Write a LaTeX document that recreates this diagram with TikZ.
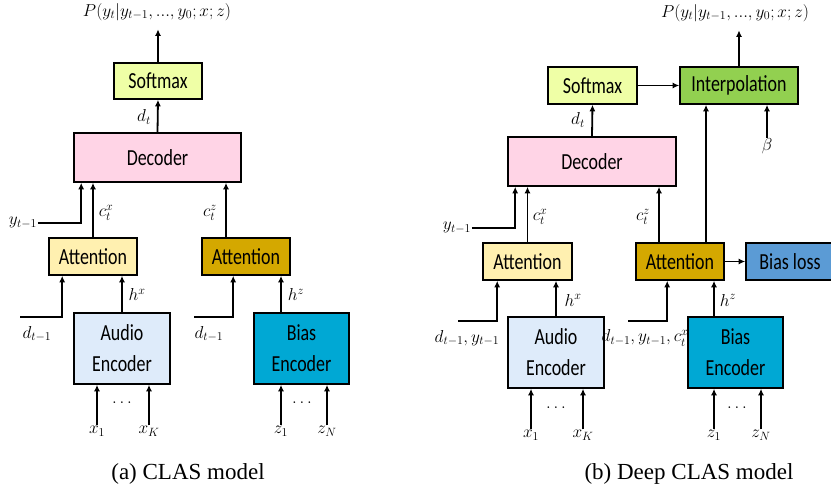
\documentclass[tikz,border=0pt]{standalone}
\usepackage{fontspec}
\setmainfont{Liberation Serif}
\setsansfont{Carlito}[FakeStretch=0.78]
\usetikzlibrary{arrows.meta,positioning,calc}
\DeclareMathSizes{16}{16}{12}{9}

\definecolor{smcol}{HTML}{EFFFA6}
\definecolor{deccol}{HTML}{FFD4E6}
\definecolor{attxcol}{HTML}{FFF0B0}
\definecolor{attzcol}{HTML}{D4A800}
\definecolor{audcol}{HTML}{DEEBFA}
\definecolor{biascol}{HTML}{00A8D4}
\definecolor{intcol}{HTML}{92D050}
\definecolor{losscol}{HTML}{5B9BD5}

\newcommand{\bxfont}{\sffamily\fontsize{23}{31}\selectfont}
\newcommand{\lbfont}{\fontsize{16}{18}\selectfont}
\newcommand{\capfont}{\rmfamily\fontsize{23}{26}\selectfont}

\begin{document}
\begin{tikzpicture}[x=1pt,y=-1pt,
  box/.style={draw,line width=1.6pt,font=\bxfont,align=center,inner sep=0pt},
  arr/.style={-{Latex[length=6.5pt,width=6pt]},line width=1.8pt},
  lbl/.style={font=\lbfont,inner sep=0.5pt}]
  \useasboundingbox (0,0) rectangle (831,492);

  % ---------------- (a) CLAS model ----------------
  \node[box,fill=smcol,minimum width=88pt,minimum height=36pt] (smA) at (158,81) {Softmax};
  \node[box,fill=deccol,minimum width=167pt,minimum height=49pt] (decA) at (157.5,157.5) {Decoder};
  \node[box,fill=attxcol,minimum width=88pt,minimum height=37pt] (attxA) at (93,256.5) {Attention};
  \node[box,fill=attzcol,minimum width=88pt,minimum height=37pt] (attzA) at (246,256.5) {Attention};
  \node[box,fill=audcol,minimum width=96pt,minimum height=71pt] (audA) at (122,348.5) {Audio\\Encoder};
  \node[box,fill=biascol,minimum width=95pt,minimum height=71pt] (biasA) at (301.5,348.5) {Bias\\Encoder};

  % labels
  \node[lbl] (pA) at (157,12) {$P(y_t|y_{t-1},...,y_0;x;z)$};
  \node[lbl] (dtA) at (144,117) {$d_t$};
  \node[lbl] (ytA) at (23,223) {$y_{t-1}$};
  \node[lbl] (cxA) at (106,213) {$c_t^x$};
  \node[lbl] (czA) at (210,213) {$c_t^z$};
  \node[lbl] (dlA) at (37,334) {$d_{t-1}$};
  \node[lbl] (drA) at (209,334) {$d_{t-1}$};
  \node[lbl] (hxA) at (137,295) {$h^x$};
  \node[lbl] (hzA) at (296,295) {$h^z$};
  \node[lbl] (x1A) at (97,431) {$x_1$};
  \node[lbl] (xkA) at (149,431) {$x_K$};
  \node[lbl] (z1A) at (281,431) {$z_1$};
  \node[lbl] (znA) at (327,431) {$z_N$};
  \node[lbl] (dotxA) at (122,403) {$\ldots$};
  \node[lbl] (dotzA) at (302,403) {$\ldots$};
  \coordinate (dinlA) at (20,317);
  \coordinate (dinrA) at (194,317);

  % connectors
  \draw[arr,shorten >=8pt] (smA.north) -- (smA.north |- pA.south);
  \draw[arr] (decA.north) -- (smA.south);
  \draw[arr] (ytA.east) -| ([xshift=8pt]decA.south west);
  \draw[arr] (attxA.north) -- (attxA.north |- decA.south);
  \draw[arr] ([xshift=-20pt]attzA.north) -- ([xshift=-20pt]attzA.north |- decA.south);
  \draw[arr] (dinlA) -| ([xshift=14pt]attxA.south west);
  \draw[arr] (dinrA) -| ([xshift=32pt]attzA.south west);
  \draw[arr] (audA.north) -- (audA.north |- attxA.south);
  \draw[arr] ([xshift=-20.5pt]biasA.north) -- ([xshift=-20.5pt]biasA.north |- attzA.south);
  \foreach \n in {x1A,xkA}
    \draw[arr] (\n.north) -- (\n.north |- audA.south);
  \foreach \n in {z1A,znA}
    \draw[arr] (\n.north) -- (\n.north |- biasA.south);

  \node[font=\capfont] (capA) at (188,474) {(a) CLAS model};

  % ---------------- (b) Deep CLAS model ----------------
  \node[box,fill=smcol,minimum width=89pt,minimum height=37pt] (smB) at (592.5,85.5) {Softmax};
  \node[box,fill=intcol,minimum width=118pt,minimum height=37pt] (intB) at (739,85.5) {Interpolation};
  \node[box,fill=deccol,minimum width=168pt,minimum height=49pt] (decB) at (592,161.5) {Decoder};
  \node[box,fill=attxcol,minimum width=89pt,minimum height=37pt] (attxB) at (527.5,261.5) {Attention};
  \node[box,fill=attzcol,minimum width=88pt,minimum height=37pt] (attzB) at (680,261.5) {Attention};
  \node[box,fill=losscol,minimum width=88pt,minimum height=37pt] (lossB) at (790,261.5) {Bias loss};
  \node[box,fill=audcol,minimum width=96pt,minimum height=71pt] (audB) at (556,352.5) {Audio\\Encoder};
  \node[box,fill=biascol,minimum width=95pt,minimum height=71pt] (biasB) at (735.5,352.5) {Bias\\Encoder};

  % labels
  \node[lbl] (pB) at (735,13) {$P(y_t|y_{t-1},...,y_0;x;z)$};
  \node[lbl] (dtB) at (578,120) {$d_t$};
  \node[lbl] (betaB) at (767,146) {$\beta$};
  \node[lbl] (ytB) at (457,228) {$y_{t-1}$};
  \node[lbl] (cxB) at (540,217) {$c_t^x$};
  \node[lbl] (czB) at (643,217) {$c_t^z$};
  \node[lbl] (dlB) at (467,338) {$d_{t-1},y_{t-1}$};
  \node[lbl] (drB) at (645,338) {$d_{t-1},y_{t-1},c_t^x$};
  \node[lbl] (hxB) at (573,300) {$h^x$};
  \node[lbl] (hzB) at (728,300) {$h^z$};
  \node[lbl] (x1B) at (531,435) {$x_1$};
  \node[lbl] (xkB) at (583,435) {$x_K$};
  \node[lbl] (z1B) at (714,435) {$z_1$};
  \node[lbl] (znB) at (761,435) {$z_N$};
  \node[lbl] (dotxB) at (556,408) {$\ldots$};
  \node[lbl] (dotzB) at (737,408) {$\ldots$};
  \coordinate (dinlB) at (458,321);
  \coordinate (dinrB) at (628,321);

  % connectors
  \draw[arr,shorten >=8pt] (intB.north) -- (intB.north |- pB.south);
  \draw[arr] (smB.east) -- (intB.west);
  \draw[arr] (decB.north) -- (smB.south);
  \draw[arr] (betaB.north) -- (betaB.north |- intB.south);
  \draw[arr] (ytB.east) -| ([xshift=8pt]decB.south west);
  \draw[arr] (attxB.north) -- (attxB.north |- decB.south);
  \draw[arr] ([xshift=-21pt]attzB.north) -- ([xshift=-21pt]attzB.north |- decB.south);
  \draw[arr] ([xshift=26pt]attzB.north) -- ([xshift=26pt]attzB.north |- intB.south);
  \draw[arr] (attzB.east) -- (lossB.west);
  \draw[arr] (dinlB) -| ([xshift=15pt]attxB.south west);
  \draw[arr] (dinrB) -| ([xshift=32pt]attzB.south west);
  \draw[arr] (audB.north) -- (audB.north |- attxB.south);
  \draw[arr] ([xshift=-21.5pt]biasB.north) -- ([xshift=-21.5pt]biasB.north |- attzB.south);
  \foreach \n in {x1B,xkB}
    \draw[arr] (\n.north) -- (\n.north |- audB.south);
  \foreach \n in {z1B,znB}
    \draw[arr] (\n.north) -- (\n.north |- biasB.south);

  \node[font=\capfont] (capB) at (689,474) {(b) Deep CLAS model};
\end{tikzpicture}
\end{document}
